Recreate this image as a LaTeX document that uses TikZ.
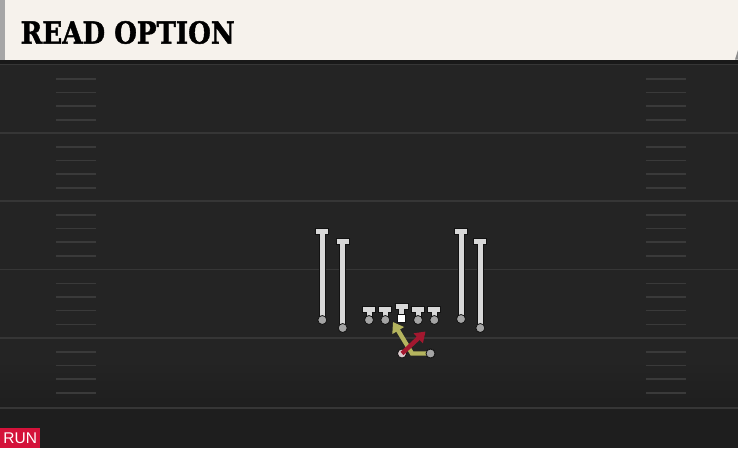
\documentclass[tikz,border=0pt]{standalone}
\usepackage{fontspec}
\usepackage{graphicx}
\setmainfont{DejaVu Serif}
\newfontfamily\titlefont[FakeBold=1.5]{DejaVu Serif Bold}
\newfontfamily\runfont{Liberation Sans}
\usetikzlibrary{arrows.meta}
\definecolor{cream}{HTML}{F6F2EC}
\definecolor{fieldbg}{HTML}{242424}
\definecolor{fielddark}{HTML}{1E1E1E}
\definecolor{yardline}{HTML}{363636}
\definecolor{hashc}{HTML}{3A3A3A}
\definecolor{plgray}{HTML}{D8D8D8}
\definecolor{ballgray}{HTML}{A4A4A4}
\definecolor{outl}{HTML}{121212}
\definecolor{routey}{HTML}{B4B45E}
\definecolor{router}{HTML}{A3182F}
\definecolor{runred}{HTML}{D4123A}
\tikzset{
  yard/.style={draw=yardline, line width=1.6pt},
  hashm/.style={draw=hashc, line width=1.4pt},
  stemo/.style={draw=outl, line width=7pt},
  stemi/.style={draw=plgray, line width=5pt},
  ball/.style={circle, fill=ballgray, draw=outl, line width=0.8pt, minimum size=9pt, inner sep=0pt},
  ctr/.style={rectangle, fill=white, draw=outl, line width=0.6pt, minimum size=8pt, inner sep=0pt},
  routeY/.style={draw=routey, line width=4.4pt, -{Triangle[length=10pt,width=13pt]}},
  routeR/.style={draw=router, line width=4.4pt, -{Triangle[length=10pt,width=13pt]}},
}
\begin{document}
\begin{tikzpicture}[x=1pt,y=-1pt]
\useasboundingbox (0,0) rectangle (738,448);
% field
\fill[fieldbg] (0,59) rectangle (738,448);
\shade[top color=fieldbg, bottom color=fielddark] (0,360) rectangle (738,410);
\fill[fielddark] (0,410) rectangle (738,448);
\fill[black!90] (0,59) rectangle (738,64);
\draw[draw=yardline, line width=1.2pt] (0,64.8) -- (738,64.8);
% header
\fill[cream] (5,0) rectangle (738,59.5);
\fill[black!35] (0,0) rectangle (5,59.5);
\fill[black!45] (735,59.5) -- (738,50) -- (738,59.5) -- cycle;
\node[anchor=west, inner sep=0pt] (title) at (20.5,32.5)
  {\resizebox{214pt}{22.5pt}{\titlefont READ OPTION}};
% yard lines
\foreach \y in {133,201,269.5,338,408} \draw[yard] (0,\y) -- (738,\y);
% hash marks
\foreach \b in {64.8,133,201,269.5,338} {
  \foreach \d in {14,27.5,41,55} {
    \draw[hashm] (56,\b+\d) -- (96,\b+\d);
    \draw[hashm] (646,\b+\d) -- (686,\b+\d);
  }
}
% receivers
\foreach \x/\t/\bb [count=\i] in {322.3/231/320, 342.7/241/328, 461/231/319, 480.3/241/328} {
  \draw[stemo] (\x,\t) -- (\x,\bb);
  \draw[stemo] (\x-7,\t) -- (\x+7,\t);
  \draw[stemi] (\x,\t) -- (\x,\bb);
  \draw[stemi] (\x-6,\t) -- (\x+6,\t);
  \node[ball] (wr\i) at (\x,\bb) {};
}
% linemen
\foreach \x/\t [count=\i] in {369/309, 385.3/309, 418/309, 434.3/309} {
  \draw[stemo] (\x,\t) -- (\x,320);
  \draw[stemo] (\x-7,\t) -- (\x+7,\t);
  \draw[stemi] (\x,\t) -- (\x,320);
  \draw[stemi] (\x-6,\t) -- (\x+6,\t);
  \node[ball] (ol\i) at (\x,320) {};
}
\draw[stemo] (401.7,306.5) -- (401.7,318);
\draw[stemo] (394.7,306.5) -- (408.7,306.5);
\draw[stemi] (401.7,306.5) -- (401.7,318);
\draw[stemi] (395.7,306.5) -- (407.7,306.5);
\node[ctr] (c) at (401.7,318.3) {};
% backs and routes
\node[ball, fill=ballgray!70!router!40] (qb) at (402,353.5) {};
\node[ball] (rb) at (430.5,353.5) {};
\coordinate (yturn) at (412,353.5);
\coordinate (yend) at (393,322);
\coordinate (rend) at (425.5,331.5);
\draw[routeY] (rb.center) -- (yturn) -- (yend);
\draw[routeR] (qb.center) -- (rend);
\node[ball] at (rb) {};
% RUN tag
\node[fill=runred, text=white, anchor=south west, minimum width=40pt, minimum height=20pt, inner sep=0pt, font=\runfont\fontsize{15.5}{15.5}\selectfont] (run) at (0,448) {RUN};
\end{tikzpicture}
\end{document}
